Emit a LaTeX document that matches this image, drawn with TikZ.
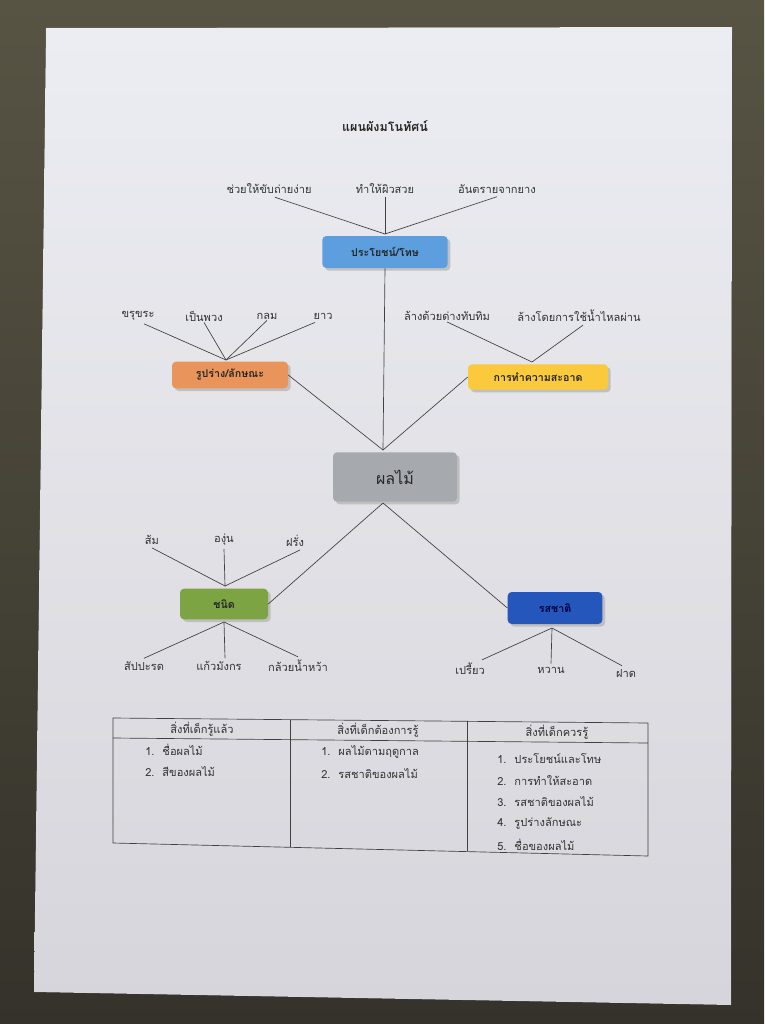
\documentclass[tikz,border=0pt]{standalone}
\usepackage{fontspec}
\newfontfamily\thaifont[Script=Thai]{Loma}
\usetikzlibrary{shadows}
\definecolor{carpet}{RGB}{88,84,68}
\definecolor{carpetdark}{RGB}{52,50,42}
\definecolor{paper}{RGB}{236,237,242}
\definecolor{paperdark}{RGB}{214,213,219}
\definecolor{inkline}{RGB}{64,64,66}
\definecolor{benefitblue}{RGB}{92,158,222}
\definecolor{shapeorange}{RGB}{232,148,90}
\definecolor{cleanyellow}{RGB}{250,202,60}
\definecolor{fruitgrey}{RGB}{166,170,175}
\definecolor{kindgreen}{RGB}{124,164,66}
\definecolor{tastenavy}{RGB}{36,86,188}

\tikzset{
  leaf/.style={inner sep=0.75pt, text=black!80},
  topic/.style={rounded corners=3pt, inner sep=2pt, font=\thaifont\bfseries\fontsize{8}{10}\selectfont,
    text=black!85, drop shadow={shadow xshift=2pt, shadow yshift=-2pt, fill=black!30, opacity=0.7}},
  link/.style={draw=inkline, line width=0.5pt},
  cell/.style={inner sep=0.75pt, anchor=west, text=black!80}
}

\begin{document}
\begin{tikzpicture}[x=0.75pt,y=0.75pt,yscale=-1,xscale=1, font=\thaifont\fontsize{8.3}{10}\selectfont]
\useasboundingbox (0,0) rectangle (764,1024);

%Shape: carpet and sheet
\fill[top color=carpet, bottom color=carpetdark] (0,0) rectangle (764,1024);
\fill[top color=paper, bottom color=paperdark] (46,28) -- (732,27) -- (731,1005) -- (34,992) -- cycle;

% Title
\node[font=\thaifont\bfseries\fontsize{9.4}{11}\selectfont, text=black!85] (title) at (385,126) {แผนผังมโนทัศน์};

% Topic boxes
\node[topic, fill=benefitblue, minimum width=94pt, minimum height=24pt] (benefit) at (385,252) {ประโยชน์/โทษ};
\node[topic, fill=shapeorange, minimum width=87pt, minimum height=20pt] (shape) at (230,375) {รูปร่าง/ลักษณะ};
\node[topic, fill=cleanyellow, minimum width=105pt, minimum height=19pt] (clean) at (538,377) {การทำความสะอาด};
\node[topic, fill=fruitgrey, minimum width=93pt, minimum height=37pt, font=\thaifont\fontsize{12}{14}\selectfont] (fruit) at (395,477) {ผลไม้};
\node[topic, fill=kindgreen, minimum width=66pt, minimum height=23pt] (kind) at (224,604) {ชนิด};
\node[topic, fill=tastenavy, minimum width=71pt, minimum height=24pt, text=blue!25!black] (taste) at (555,608) {รสชาติ};

% Leaves of benefit
\node[leaf] (b1) at (269,189) {ช่วยให้ขับถ่ายง่าย};
\node[leaf] (b2) at (385,189) {ทำให้ผิวสวย};
\node[leaf] (b3) at (497,189) {อันตรายจากยาง};
% Leaves of shape
\node[leaf] (s1) at (138,316) {ขรุขระ};
\node[leaf] (s2) at (204,316) {เป็นพวง};
\node[leaf] (s3) at (267,316) {กลม};
\node[leaf] (s4) at (323,316) {ยาว};
% Leaves of clean
\node[leaf] (c1) at (447,316) {ล้างด้วยด่างทับทิม};
\node[leaf] (c2) at (579,316) {ล้างโดยการใช้น้ำไหลผ่าน};
% Leaves of kind
\node[leaf] (k1) at (152,540) {ส้ม};
\node[leaf] (k2) at (224,540) {องุ่น};
\node[leaf] (k3) at (295,541) {ฝรั่ง};
\node[leaf] (k4) at (144,666) {สัปปะรด};
\node[leaf] (k5) at (219,666) {แก้วมังกร};
\node[leaf] (k6) at (298,666) {กล้วยน้ำหว้า};
% Leaves of taste
\node[leaf] (t1) at (470,669) {เปรี้ยว};
\node[leaf] (t2) at (551,670) {หวาน};
\node[leaf] (t3) at (626,673) {ฝาด};

% Join points
\coordinate (bj) at (385,234);
\coordinate (sj) at (226,360);
\coordinate (cj) at (532,362);
\coordinate (fj) at (383,450);
\coordinate (fb) at (383,503);
\coordinate (kj) at (225,586);
\coordinate (kb) at (224,622);
\coordinate (tb) at (552,628);

%Straight Lines
\draw[link] (b1.south) ++(6,2) -- (bj);
\draw[link] (b2.south) ++(0,2) -- (bj);
\draw[link] (b3.south) ++(0,2) -- (bj);
\draw[link] (benefit.south) -- (fj);
\draw[link] (s1.south) ++(6,2) -- (sj);
\draw[link] (s2.south) -- (sj);
\draw[link] (s3.south) -- (sj);
\draw[link] (s4.south) ++(-8,2) -- (sj);
\draw[link] (c1.south) -- (cj);
\draw[link] (c2.south) ++(4,2) -- (cj);
\draw[link] (shape.east) -- (fj);
\draw[link] (clean.west) -- (fj);
\draw[link] (fb) -- (kind.east);
\draw[link] (fb) -- (taste.west);
\draw[link] (k1.south) ++(0,2) -- (kj);
\draw[link] (k2.south) ++(0,2) -- (kj);
\draw[link] (k3.south) ++(5,2) -- (kj);
\draw[link] (kb) -- ([shift={(0,-2)}]k4.north);
\draw[link] (kb) -- ([shift={(6,-2)}]k5.north);
\draw[link] (kb) -- ([shift={(0,-2)}]k6.north);
\draw[link] (tb) -- ([shift={(12,-2)}]t1.north);
\draw[link] (tb) -- ([shift={(0,-2)}]t2.north);
\draw[link] (tb) -- ([shift={(-4,-2)}]t3.north);

%Shape: table
\draw[inkline, line width=0.5pt] (113,718) -- (648,723) -- (648,856) -- (113,843) -- cycle;
\draw[inkline, line width=0.5pt] (113,738) -- (648,743);
\draw[inkline, line width=0.5pt] (290,720) -- (290,847);
\draw[inkline, line width=0.5pt] (467,721) -- (467,851);

% Text Node
\node[leaf] (h1) at (202,729) {สิ่งที่เด็กรู้แล้ว};
\node[leaf] (h2) at (378,730) {สิ่งที่เด็กต้องการรู้};
\node[leaf] (h3) at (557,732) {สิ่งที่เด็กควรรู้};
\node[cell] (l1) at (144,750) {1.\hspace{6pt}ชื่อผลไม้};
\node[cell] (l2) at (144,772) {2.\hspace{6pt}สีของผลไม้};
\node[cell] (m1) at (320,752) {1.\hspace{6pt}ผลไม้ตามฤดูกาล};
\node[cell] (m2) at (320,774) {2.\hspace{6pt}รสชาติของผลไม้};
\node[cell] (r1) at (496,759) {1.\hspace{6pt}ประโยชน์และโทษ};
\node[cell] (r2) at (496,781) {2.\hspace{6pt}การทำให้สะอาด};
\node[cell] (r3) at (496,802) {3.\hspace{6pt}รสชาติของผลไม้};
\node[cell] (r4) at (496,824) {4.\hspace{6pt}รูปร่างลักษณะ};
\node[cell] (r5) at (496,845) {5.\hspace{6pt}ชื่อของผลไม้};

\end{tikzpicture}
\end{document}
